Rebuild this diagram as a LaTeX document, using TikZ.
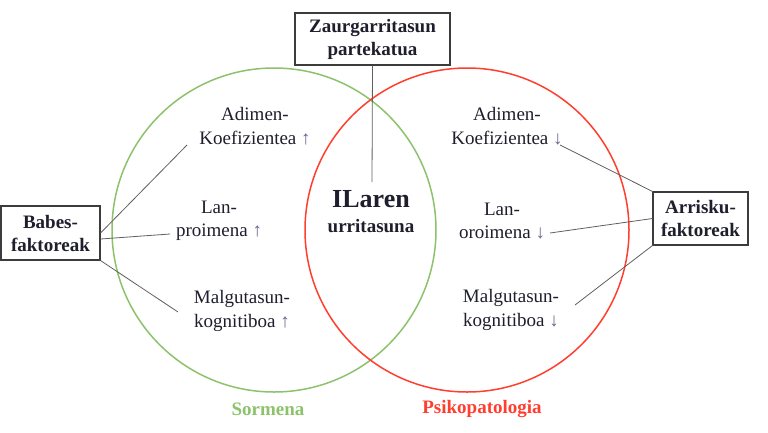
\documentclass[tikz,border=0pt]{standalone}
\usepackage{fontspec}
\setmainfont{Liberation Serif}
\usetikzlibrary{positioning}

\definecolor{sormgreen}{RGB}{140,194,108}
\definecolor{psikred}{RGB}{255,62,46}
\definecolor{boxgrey}{RGB}{60,60,60}
\definecolor{linkgrey}{RGB}{95,95,95}
\definecolor{arrowgrey}{RGB}{110,100,140}
\definecolor{inkdark}{RGB}{30,30,45}

\newcommand{\uparr}{\textcolor{arrowgrey}{↑}}
\newcommand{\dnarr}{\textcolor{arrowgrey}{↓}}

\begin{document}
\begin{tikzpicture}[x=1pt,y=-1pt,
  factor/.style={draw=boxgrey,line width=1.1pt,fill=white,align=center,text=inkdark,
    font=\bfseries\fontsize{19}{23}\selectfont,inner sep=0pt},
  trait/.style={align=center,text=inkdark,font=\fontsize{19}{23.5}\selectfont,inner sep=0pt},
  link/.style={draw=linkgrey,line width=0.8pt}]
  \useasboundingbox (0,0) rectangle (768,432);

  % the two sets
  \draw [sormgreen,line width=1.5pt] (274,230) circle [radius=162pt];
  \draw [psikred,line width=1.5pt]   (467,230) circle [radius=162pt];
  \node [text=sormgreen,font=\bfseries\fontsize{19}{23}\selectfont] (sormena) at (268,409) {Sormena};
  \node [text=psikred,font=\bfseries\fontsize{19}{23}\selectfont]   (psiko)   at (482,409) {Psikopatologia};

  % factor boxes
  \node [factor,minimum width=99pt,minimum height=54pt]  (babes)   at (50.5,233)  {Babes-\\faktoreak};
  \node [factor,minimum width=95pt,minimum height=53pt]  (arrisku) at (700.5,218.5) {Arrisku-\\faktoreak};
  \node [factor,minimum width=155pt,minimum height=52pt] (zaurg)   at (372.5,39)  {Zaurgarritasun\\partekatua};

  % traits
  \node [trait] (adimenL) at (255,126) {Adimen-\\Koefizientea \uparr};
  \node [trait] (lanL)    at (219,221) {Lan-\\proimena \uparr};
  \node [trait] (malgL)   at (242,311) {Malgutasun-\\kognitiboa \uparr};
  \node [trait] (adimenR) at (507,126) {Adimen-\\Koefizientea \dnarr};
  \node [trait] (lanR)    at (502,221) {Lan-\\oroimena \dnarr};
  \node [trait] (malgR)   at (511,310) {Malgutasun-\\kognitiboa \dnarr};
  \node [trait,font=\bfseries\fontsize{19}{25}\selectfont] (ilaren) at (371,212)
    {{\fontsize{26}{28}\selectfont ILaren}\\urritasuna};

  % free ends of the links
  \coordinate (c1) at (187,145);
  \coordinate (c2) at (170,234);
  \coordinate (c3) at (178,312);
  \coordinate (c4) at (560,145);
  \coordinate (c5) at (550,233);
  \coordinate (c6) at (575,305);
  \coordinate (c7) at (372,182);

  \draw [link] (babes.east) -- (c1);
  \draw [link] ([yshift=-6pt]babes.east) -- (c2);
  \draw [link] (babes.south east) -- (c3);
  \draw [link] (arrisku.north west) -- (c4);
  \draw [link] (arrisku.west) -- (c5);
  \draw [link] (arrisku.south west) -- (c6);
  \draw [link] (zaurg.south) -- (c7);
\end{tikzpicture}
\end{document}
